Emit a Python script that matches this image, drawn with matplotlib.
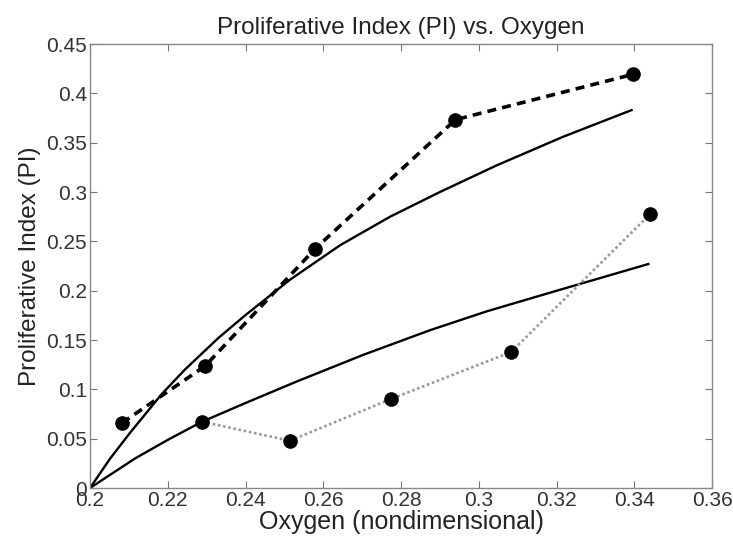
import numpy as np
import matplotlib.pyplot as plt

plt.rcParams['font.family'] = ['Liberation Sans', 'DejaVu Sans']

# measured points (dashed line, upper data set)
x_hi = [0.2082, 0.2296, 0.2579, 0.2940, 0.3397]
pi_hi = [0.0659, 0.1236, 0.2425, 0.3733, 0.4193]

# measured points (dotted line, lower data set)
x_lo = [0.2289, 0.2514, 0.2774, 0.3083, 0.3441]
pi_lo = [0.0672, 0.0479, 0.0902, 0.1378, 0.2777]

# model curves (solid)
x_fit_hi = [0.2, 0.2052, 0.2103, 0.2184, 0.2244, 0.2330, 0.2399, 0.2514, 0.2643,
            0.2772, 0.2900, 0.3046, 0.3217, 0.3393]
pi_fit_hi = [0.0, 0.030, 0.056, 0.095, 0.120, 0.152, 0.175, 0.211, 0.246,
             0.275, 0.300, 0.327, 0.356, 0.383]

x_fit_lo = [0.2, 0.2116, 0.2201, 0.2287, 0.2399, 0.2532, 0.2703, 0.2875,
            0.3020, 0.3192, 0.3436]
pi_fit_lo = [0.0, 0.030, 0.049, 0.067, 0.086, 0.108, 0.135, 0.160,
             0.179, 0.199, 0.227]

fig = plt.figure(figsize=(7.33, 5.38), dpi=100)
ax = fig.add_axes([0.1228, 0.0929, 0.8486, 0.8253])

ax.plot(x_fit_hi, pi_fit_hi, '-', color='black', lw=1.7, solid_joinstyle='round')
ax.plot(x_fit_lo, pi_fit_lo, '-', color='black', lw=1.7, solid_joinstyle='round')
ax.plot(x_hi, pi_hi, '--', color='black', lw=2.6, dashes=(2.5, 1.7),
        marker='o', ms=9.5, mfc='black', mec='black')
ax.plot(x_lo, pi_lo, ':', color='#9a9a9a', lw=1.9, dashes=(1, 1),
        marker='o', ms=9.5, mfc='black', mec='black')

ax.set_xlim(0.2, 0.36)
ax.set_ylim(0, 0.45)
ax.set_xticks(np.arange(0.2, 0.3601, 0.02))
ax.set_yticks(np.arange(0, 0.4501, 0.05))
ax.set_xticklabels(['0.2', '0.22', '0.24', '0.26', '0.28', '0.3', '0.32', '0.34', '0.36'])
ax.set_yticklabels(['0', '0.05', '0.1', '0.15', '0.2', '0.25', '0.3', '0.35', '0.4', '0.45'])
ax.tick_params(direction='in', top=True, right=True, length=5, width=0.8,
               color='#777777', labelsize=15, labelcolor='#333333', pad=2)
for s in ax.spines.values():
    s.set_color('#888888')
    s.set_linewidth(1.0)

ax.set_title('Proliferative Index (PI) vs. Oxygen', fontsize=17.5, color='#222222', pad=7)
ax.set_xlabel('Oxygen (nondimensional)', fontsize=18, color='#222222', labelpad=0)
ax.set_ylabel('Proliferative Index (PI)', fontsize=17.5, color='#222222', labelpad=4)

fig.savefig('out.png', dpi=100)
